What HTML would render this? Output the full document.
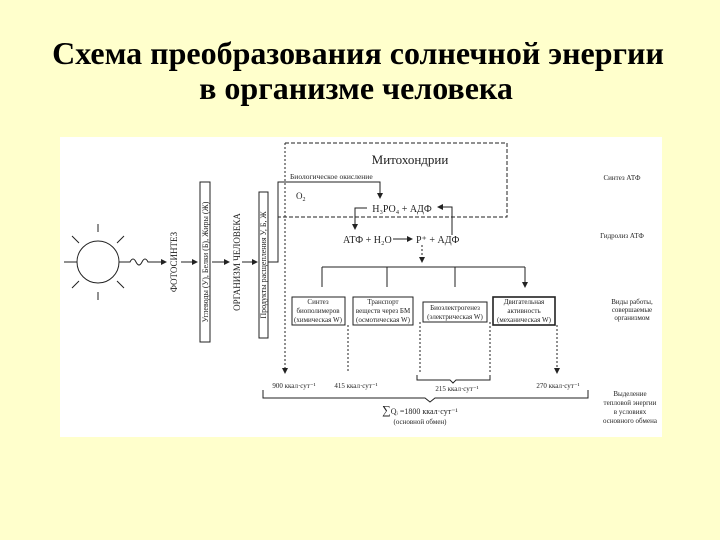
<!DOCTYPE html>
<html><head><meta charset="utf-8"><style>
body{margin:0;background:#ffffcc;}
svg{display:block}
text{font-family:"Liberation Serif",serif;fill:#222}
</style></head><body>
<svg width="720" height="540" viewBox="0 0 720 540">
<rect width="720" height="540" fill="#ffffcc"/>
<text x="358" y="64" font-size="32" font-weight="bold" text-anchor="middle" style="fill:#000">Схема преобразования солнечной энергии</text>
<text x="356" y="99" font-size="32" font-weight="bold" text-anchor="middle" style="fill:#000">в организме человека</text>
<rect x="60" y="137" width="602" height="300" fill="#fff"/>
<defs><marker id="a" markerWidth="6" markerHeight="6" refX="5" refY="3" orient="auto"><path d="M0,0L6,3L0,6z" fill="#222"/></marker></defs>
<g stroke="#222" stroke-width="1" fill="none">
<circle cx="98" cy="262" r="21"/>
<path d="M98,224V232M98,292V300M72,236L79,243M124,236L117,243M72,288L79,281M124,288L117,281M64,262H77"/>
<path d="M119,262H130q3,-6 6,0t6,0t6,0H166" marker-end="url(#a)"/>
<path d="M181,262H197" marker-end="url(#a)"/>
<path d="M212,262H229" marker-end="url(#a)"/>
<path d="M242,262H257" marker-end="url(#a)"/>
<rect x="200" y="182" width="10" height="160"/>
<rect x="259" y="192" width="9" height="146"/>
<path d="M268,262H278V182H380V198" marker-end="url(#a)"/>
<path d="M285,143H507V217H278" stroke-dasharray="4,2"/>
<path d="M285,143V373" stroke-dasharray="2,2" marker-end="url(#a)"/>
<path d="M367,208H355V229" marker-end="url(#a)"/>
<path d="M452,235V207H438" marker-end="url(#a)"/>
<path d="M393,239H412" marker-end="url(#a)"/>
<path d="M422,245V262" stroke-dasharray="2,2" marker-end="url(#a)"/>
<path d="M322,267H525"/>
<path d="M322,267V287M387,267V287M455,267V287M525,267V287" marker-end="url(#a)"/>
<rect x="292" y="297" width="53" height="28"/>
<rect x="353" y="297" width="60" height="28"/>
<rect x="423" y="302" width="64" height="20"/>
<rect x="493" y="297" width="62" height="28" stroke-width="1.6"/>
<path d="M348,325V373M420,322V373M490,322V373M557,325V373" stroke-dasharray="2,2" marker-end="url(#a)"/>
<path d="M417,375V380H450L453,383L456,380H490V375"/>
<path d="M263,390V398H425L430,402L435,398H588V390"/>
</g>
<g font-size="7">
<text x="177" y="262" transform="rotate(-90 177 262)" text-anchor="middle" font-size="9">ФОТОСИНТЕЗ</text>
<text x="208" y="262" transform="rotate(-90 208 262)" text-anchor="middle" font-size="8">Углеводы (У), Белки (Б), Жиры (Ж)</text>
<text x="240" y="262" transform="rotate(-90 240 262)" text-anchor="middle" font-size="9">ОРГАНИЗМ ЧЕЛОВЕКА</text>
<text x="266" y="265" transform="rotate(-90 266 265)" text-anchor="middle" font-size="8">Продукты расщепления У, Б, Ж</text>
<text x="410" y="164" font-size="13" text-anchor="middle">Митохондрии</text>
<text x="290" y="179" font-size="7.5">Биологическое окисление</text>
<text x="296" y="199" font-size="9">O<tspan font-size="6" dy="2">2</tspan></text>
<text x="402" y="212" font-size="10" text-anchor="middle">H₃PO₄ + АДФ</text>
<text x="343" y="243" font-size="10">АТФ + H₂O</text>
<text x="416" y="243" font-size="10">P⁺ + АДФ</text>
<text x="318" y="304" text-anchor="middle">Синтез</text>
<text x="318" y="313" text-anchor="middle">биополимеров</text>
<text x="318" y="322" text-anchor="middle">(химическая W)</text>
<text x="383" y="304" text-anchor="middle">Транспорт</text>
<text x="383" y="313" text-anchor="middle">веществ через БМ</text>
<text x="383" y="322" text-anchor="middle">(осмотическая W)</text>
<text x="455" y="310" text-anchor="middle">Биоэлектрогенез</text>
<text x="455" y="319" text-anchor="middle">(электрическая W)</text>
<text x="524" y="304" text-anchor="middle">Двигательная</text>
<text x="524" y="313" text-anchor="middle">активность</text>
<text x="524" y="322" text-anchor="middle">(механическая W)</text>
<text x="294" y="388" text-anchor="middle">900 ккал·сут⁻¹</text>
<text x="356" y="388" text-anchor="middle">415 ккал·сут⁻¹</text>
<text x="457" y="391" text-anchor="middle">215 ккал·сут⁻¹</text>
<text x="558" y="388" text-anchor="middle">270 ккал·сут⁻¹</text>
<text x="420" y="414" text-anchor="middle" font-size="8"><tspan font-size="12">∑</tspan>Qᵢ =1800 ккал·сут⁻¹</text>
<text x="420" y="424" text-anchor="middle">(основной обмен)</text>
<text x="622" y="180" text-anchor="middle">Синтез АТФ</text>
<text x="622" y="238" text-anchor="middle">Гидролиз АТФ</text>
<text x="632" y="304" text-anchor="middle">Виды работы,</text>
<text x="632" y="312" text-anchor="middle">совершаемые</text>
<text x="632" y="320" text-anchor="middle">организмом</text>
<text x="630" y="396" text-anchor="middle">Выделение</text>
<text x="630" y="405" text-anchor="middle">тепловой энергии</text>
<text x="630" y="414" text-anchor="middle">в условиях</text>
<text x="630" y="423" text-anchor="middle">основного обмена</text>
</g>
</svg>
</body></html>
